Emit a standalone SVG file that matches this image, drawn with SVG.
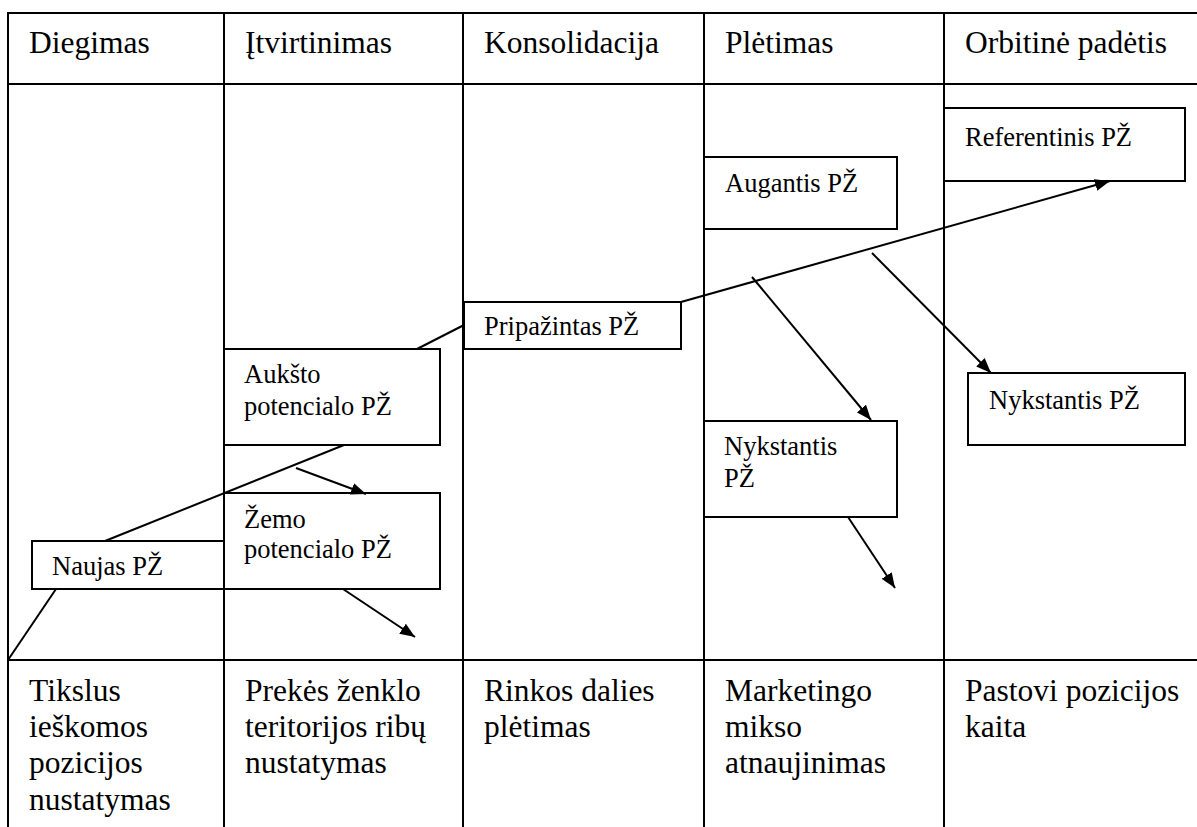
<svg xmlns="http://www.w3.org/2000/svg" width="1197" height="827" viewBox="0 0 1197 827">
  <style>
    .grid { stroke: #000; stroke-width: 2; fill: none; }
    .box { fill: #fff; stroke: #000; stroke-width: 2; }
    .big { font-size: 31.5px; fill: #000; }
    .lbl { font-size: 26.5px; fill: #000; }
    .conn { stroke: #000; stroke-width: 2; fill: none; }
    .arr { marker-end: url(#head); }
  </style>
  <defs>
    <marker id="head" markerUnits="userSpaceOnUse" markerWidth="16" markerHeight="12" refX="15" refY="6" orient="auto">
      <path d="M0,0 L15,6 L0,12 z" fill="#000"/>
    </marker>
  </defs>
  <rect width="1197" height="827" fill="#fff"/>

  <!-- table grid -->
  <g id="grid" class="grid">
    <line x1="8" y1="13" x2="1197" y2="13"/>
    <line x1="8" y1="84" x2="1197" y2="84"/>
    <line x1="8" y1="660" x2="1197" y2="660"/>
    <line x1="8" y1="12" x2="8" y2="827"/>
    <line x1="224" y1="12" x2="224" y2="827"/>
    <line x1="463" y1="12" x2="463" y2="827"/>
    <line x1="704" y1="12" x2="704" y2="827"/>
    <line x1="944" y1="12" x2="944" y2="827"/>
  </g>

  <g font-family="Liberation Serif, Tinos, DejaVu Serif, serif">
  <!-- stage headings -->
  <g id="headers" class="big">
    <text x="29" y="53">Diegimas</text>
    <text x="245" y="53">Įtvirtinimas</text>
    <text x="484" y="53">Konsolidacija</text>
    <text x="725" y="53">Plėtimas</text>
    <text x="965" y="53">Orbitinė padėtis</text>
  </g>

  <!-- strategies per stage -->
  <g id="strategies" class="big">
    <text x="29" y="701">Tikslus</text>
    <text x="29" y="737">ieškomos</text>
    <text x="29" y="773">pozicijos</text>
    <text x="29" y="810">nustatymas</text>
    <text x="245" y="701">Prekės ženklo</text>
    <text x="245" y="737">teritorijos ribų</text>
    <text x="245" y="773">nustatymas</text>
    <text x="484" y="701">Rinkos dalies</text>
    <text x="484" y="737">plėtimas</text>
    <text x="725" y="701">Marketingo</text>
    <text x="725" y="737">mikso</text>
    <text x="725" y="773">atnaujinimas</text>
    <text x="965" y="701">Pastovi pozicijos</text>
    <text x="965" y="737">kaita</text>
  </g>

  <!-- brand states -->
  <g id="naujas">
    <rect class="box" x="32" y="541" width="192" height="48"/>
    <text class="lbl" x="52" y="575">Naujas PŽ</text>
  </g>
  <g id="aukstas">
    <rect class="box" x="224" y="349" width="216" height="96"/>
    <text class="lbl" x="244" y="383">Aukšto</text>
    <text class="lbl" x="244" y="415">potencialo PŽ</text>
  </g>
  <g id="zemas">
    <rect class="box" x="224" y="493" width="216" height="96"/>
    <text class="lbl" x="244" y="528">Žemo</text>
    <text class="lbl" x="244" y="558">potencialo PŽ</text>
  </g>
  <g id="pripazintas">
    <rect class="box" x="464" y="302" width="217" height="47"/>
    <text class="lbl" x="484" y="335">Pripažintas PŽ</text>
  </g>
  <g id="augantis">
    <rect class="box" x="704" y="157" width="193" height="72"/>
    <text class="lbl" x="725" y="192">Augantis PŽ</text>
  </g>
  <g id="referentinis">
    <rect class="box" x="944" y="108" width="241" height="73"/>
    <text class="lbl" x="965" y="146">Referentinis PŽ</text>
  </g>
  <g id="nykstantis-pletimas">
    <rect class="box" x="704" y="421" width="193" height="96"/>
    <text class="lbl" x="724" y="455">Nykstantis</text>
    <text class="lbl" x="724" y="487">PŽ</text>
  </g>
  <g id="nykstantis-orbita">
    <rect class="box" x="968" y="373" width="217" height="72"/>
    <text class="lbl" x="989" y="409">Nykstantis PŽ</text>
  </g>
  </g>

  <!-- transitions -->
  <g id="connectors" class="conn">
    <line x1="8" y1="660" x2="56" y2="589"/>
    <line x1="105" y1="541" x2="344" y2="445"/>
    <line x1="417" y1="349" x2="464" y2="325"/>
    <line class="arr" x1="681" y1="302" x2="1110" y2="181"/>
    <line class="arr" x1="752" y1="277" x2="871" y2="420"/>
    <line class="arr" x1="872" y1="253" x2="991" y2="373"/>
    <line class="arr" x1="848" y1="517" x2="895" y2="588"/>
    <line class="arr" x1="296" y1="468" x2="366" y2="494"/>
    <line class="arr" x1="343" y1="589" x2="415" y2="637"/>
  </g>
</svg>
